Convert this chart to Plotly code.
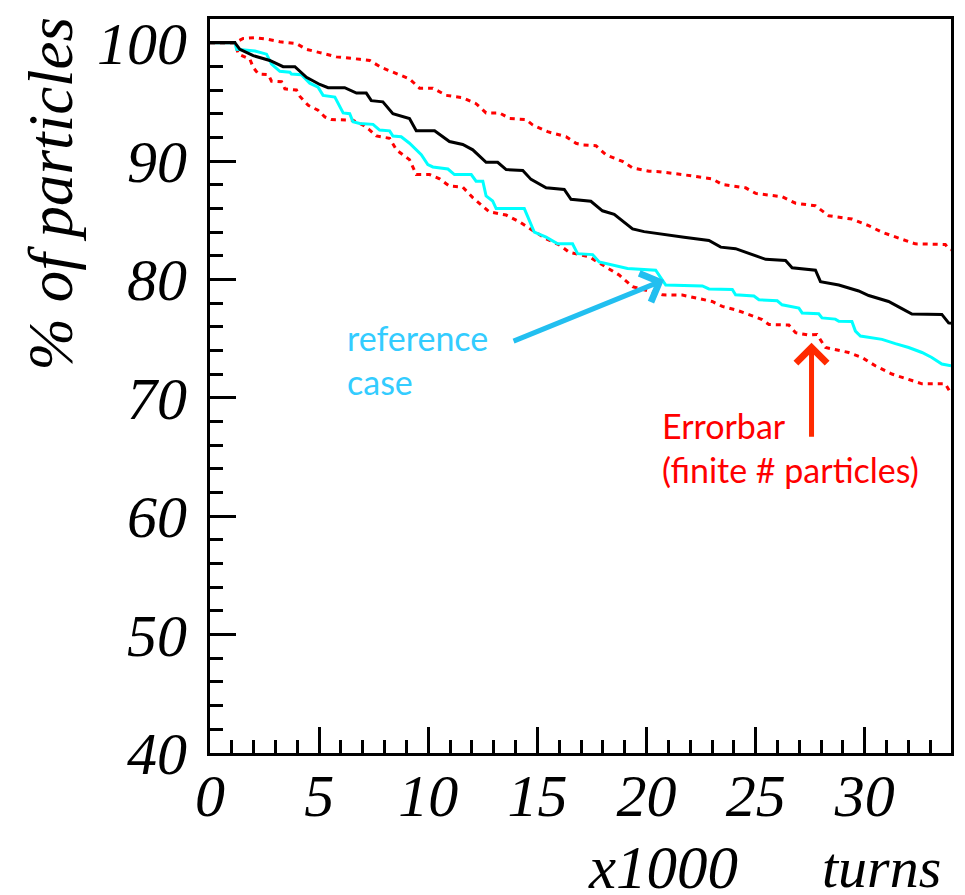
import plotly.graph_objects as go

# ---- data (x in units of 1000 turns, y in % of particles) ----
black_x = [0, 1.14, 1.37, 1.98, 2.74, 3.35, 3.89, 4.42, 5.03, 5.41, 6.17, 6.71, 7.16, 7.39, 7.92, 8.38, 9.14, 9.45,
           10.29, 10.97, 11.58, 12.04, 12.65, 13.18, 13.57, 14.33, 14.71, 15.4, 16.23, 16.54, 17.45, 17.98, 18.52,
           19.36, 19.89, 20.5, 21.72, 22.86, 23.4, 24.08, 24.69, 25.46, 26.37, 26.67, 27.74, 27.97, 28.81, 29.72,
           30.18, 31.09, 31.7, 32.16, 33.53, 33.84, 33.95]
black_y = [100, 100, 99.44, 98.9, 98.5, 97.97, 97.97, 97.08, 96.47, 96.2, 96.2, 95.74, 95.74, 95.1, 95.0, 94.0, 93.6,
           92.56, 92.56, 91.65, 91.4, 90.95, 89.9, 89.9, 89.28, 89.2, 88.45, 87.75, 87.6, 86.77, 86.6, 85.8, 85.5,
           84.27, 84.04, 83.9, 83.57, 83.29, 82.73, 82.6, 82.18, 81.7, 81.6, 80.98, 80.78, 79.81, 79.53, 79.03,
           78.64, 78.14, 77.53, 77.08, 77.05, 76.33, 76.3]

ref_x = [0, 1.14, 1.22, 2.06, 2.59, 2.82, 3.2, 3.66, 3.73, 4.19, 4.57, 4.95, 5.18, 5.72, 6.1, 6.4, 6.55, 6.86, 7.47,
         7.77, 8.23, 8.38, 8.76, 9.14, 9.68, 9.98, 10.21, 10.9, 11.2, 11.97, 12.19, 12.5, 12.65, 12.95, 13.11, 14.4,
         14.86, 15.4, 15.93, 16.61, 16.84, 17.53, 17.83, 19.13, 20.42, 20.88, 22.56, 22.86, 23.93, 24.08, 24.92,
         25.15, 25.99, 26.21, 26.98, 27.13, 27.89, 28.04, 28.65, 28.81, 29.41, 29.57, 29.8, 30.79, 31.4, 32.01,
         32.62, 33.07, 33.53, 33.95]
ref_y = [100, 100, 99.44, 99.3, 99.03, 98.19, 97.58, 97.5, 97.36, 97.3, 96.58, 96.24, 95.55, 95.4, 94.07, 94.0,
         93.32, 93.18, 93.1, 92.62, 92.55, 92.12, 92.05, 91.51, 90.53, 89.7, 89.5, 89.33, 88.86, 88.86, 88.3, 88.3,
         87.05, 86.63, 85.99, 85.99, 83.99, 83.57, 83.01, 83.01, 82.18, 82.1, 81.48, 80.93, 80.78, 79.53, 79.45,
         79.2, 79.15, 78.7, 78.6, 78.28, 78.2, 77.86, 77.58, 77.17, 77.1, 76.75, 76.65, 76.47, 76.45, 75.64, 75.22,
         74.94, 74.58, 74.25, 73.83, 73.41, 72.85, 72.71]

up_x = [0, 1.14, 1.52, 2.06, 2.59, 3.2, 3.96, 4.42, 5.03, 5.79, 6.86, 7.32, 7.85, 8.54, 9.14, 9.6, 10.21, 10.82,
        11.58, 12.19, 12.65, 13.26, 13.72, 14.48, 14.79, 15.47, 16.31, 16.77, 17.07, 17.68, 18.14, 18.9, 19.36,
        20.12, 20.58, 21.64, 22.56, 23.01, 23.47, 24.54, 25.0, 26.21, 26.83, 27.74, 28.35, 29.41, 30.18, 30.79,
        31.55, 32.31, 33.69, 33.84, 33.95]
up_y = [100, 100, 100.36, 100.42, 100.3, 100.08, 99.92, 99.44, 99.16, 98.8, 98.6, 98.5, 97.91, 97.36, 96.94, 96.16,
        96.16, 95.55, 95.35, 94.85, 94.07, 94.07, 93.6, 93.5, 93.04, 92.48, 92.06, 91.5, 91.37, 91.3, 90.53, 89.97,
        89.42, 89.14, 89.1, 88.86, 88.58, 88.5, 88.02, 87.74, 87.27, 86.99, 86.44, 86.22, 85.38, 85.1, 84.54, 83.99,
        83.49, 83.01, 82.95, 82.6, 82.5]

lo_x = [0, 1.14, 1.3, 1.83, 1.98, 2.21, 2.67, 2.82, 3.28, 3.43, 3.96, 4.12, 4.5, 4.95, 5.26, 5.56, 6.55, 7.01, 7.32,
        7.62, 8.23, 8.54, 9.14, 9.45, 10.06, 10.52, 10.97, 11.58, 12.04, 12.5, 12.8, 13.57, 14.17, 14.63, 15.4,
        16.0, 16.46, 17.38, 17.98, 18.75, 19.36, 20.12, 20.73, 21.64, 22.25, 23.01, 23.47, 24.08, 24.69, 25.3,
        25.61, 26.52, 26.83, 27.43, 27.81, 28.2, 29.26, 29.87, 30.48, 31.24, 32.16, 32.62, 33.69, 33.91]
lo_y = [100, 100, 99.03, 98.6, 97.91, 97.36, 97.3, 96.74, 96.7, 96.1, 96.0, 95.46, 94.71, 94.29, 93.73, 93.51, 93.45,
        93.04, 92.62, 92.12, 91.92, 90.95, 90.12, 88.86, 88.86, 88.5, 87.89, 87.8, 86.91, 86.22, 85.71, 85.44, 84.88,
        84.32, 83.43, 82.93, 82.3, 81.9, 81.2, 80.37, 79.39, 78.98, 78.7, 78.68, 78.42, 78.14, 77.72, 77.44, 77.03,
        76.61, 76.19, 76.15, 75.5, 75.3, 75.35, 74.25, 73.83, 73.41, 72.71, 72.01, 71.46, 71.18, 71.18, 70.49]

x_tick_vals = [0, 5, 10, 15, 20, 25, 30]
x_tick_text = ["0", "5", "10", "15", "20", "25", "30"]
y_tick_vals = [40, 50, 60, 70, 80, 90, 100]
y_tick_text = ["40", "50", "60", "70", "80", "90", "100"]

ref_label = "reference<br>case"
err_label = "Errorbar<br>(finite # particles)"

SERIF = "Liberation Serif"

fig = go.Figure()
fig.add_trace(go.Scatter(x=up_x, y=up_y, mode="lines",
                         line=dict(color="#FF0000", width=3, dash="5px,5px")))
fig.add_trace(go.Scatter(x=lo_x, y=lo_y, mode="lines",
                         line=dict(color="#FF0000", width=3, dash="5px,5px")))
fig.add_trace(go.Scatter(x=ref_x, y=ref_y, mode="lines",
                         line=dict(color="#00FFFF", width=3)))
fig.add_trace(go.Scatter(x=black_x, y=black_y, mode="lines",
                         line=dict(color="#000000", width=3)))

axis_common = dict(
    showline=True, linecolor="black", linewidth=3, mirror=True,
    showgrid=False, zeroline=False, ticks="inside", tickcolor="black",
    tickwidth=2.5, ticklen=26,
    tickfont=dict(family=SERIF, size=60, color="black"),
)

fig.update_layout(
    width=965, height=895,
    margin=dict(l=210, r=12, t=11, b=142),
    paper_bgcolor="white", plot_bgcolor="white",
    showlegend=False,
    xaxis=dict(range=[0, 33.95], tickvals=x_tick_vals,
               ticktext=["<i>%s</i>" % t for t in x_tick_text],
               minor=dict(dtick=1, tick0=0, ticks="inside", ticklen=13, tickwidth=2.5, tickcolor="black"),
               ticklabelstandoff=-12, **axis_common),
    yaxis=dict(range=[40, 102], tickvals=y_tick_vals,
               ticktext=["<i>%s</i>" % t for t in y_tick_text],
               minor=dict(dtick=2, tick0=40, ticks="inside", ticklen=13, tickwidth=2.5, tickcolor="black"),
               ticklabelstandoff=8, **axis_common),
)

# axis titles
fig.add_annotation(xref="paper", yref="paper", x=-0.215, y=0.762, text="<i>% of particles</i>", textangle=-90,
                   showarrow=False, font=dict(family=SERIF, size=63, color="black"),
                   xanchor="center", yanchor="middle")
fig.add_annotation(xref="paper", yref="paper", x=0.612, y=-0.156, text="<i>x1000</i>", showarrow=False,
                   font=dict(family=SERIF, size=61, color="black"),
                   xanchor="center", yanchor="middle")
fig.add_annotation(xref="paper", yref="paper", x=0.906, y=-0.156, text="<i>turns</i>", showarrow=False,
                   font=dict(family=SERIF, size=58, color="black"),
                   xanchor="center", yanchor="middle")

# arrows
fig.add_annotation(x=20.8, y=79.95, ax=13.84, ay=74.74, xref="x", yref="y", axref="x", ayref="y",
                   text="", showarrow=True, arrowhead=4, arrowsize=1.2, arrowwidth=5, arrowcolor="#22BFF0")
fig.add_annotation(x=27.56, y=74.66, ax=27.56, ay=66.58, xref="x", yref="y", axref="x", ayref="y",
                   text="", showarrow=True, arrowhead=4, arrowsize=1.2, arrowwidth=5, arrowcolor="#FF2A00")

# labels
fig.add_annotation(x=6.17, y=73.27, xref="x", yref="y", text=ref_label, showarrow=False,
                   xanchor="left", yanchor="middle", align="left",
                   font=dict(family="Lato", size=34, color="#33CCFF"))
fig.add_annotation(x=20.62, y=65.8, xref="x", yref="y", text=err_label, showarrow=False,
                   xanchor="left", yanchor="middle", align="left",
                   font=dict(family="Lato", size=34, color="#FF0000"))

fig.write_html("out.html")
